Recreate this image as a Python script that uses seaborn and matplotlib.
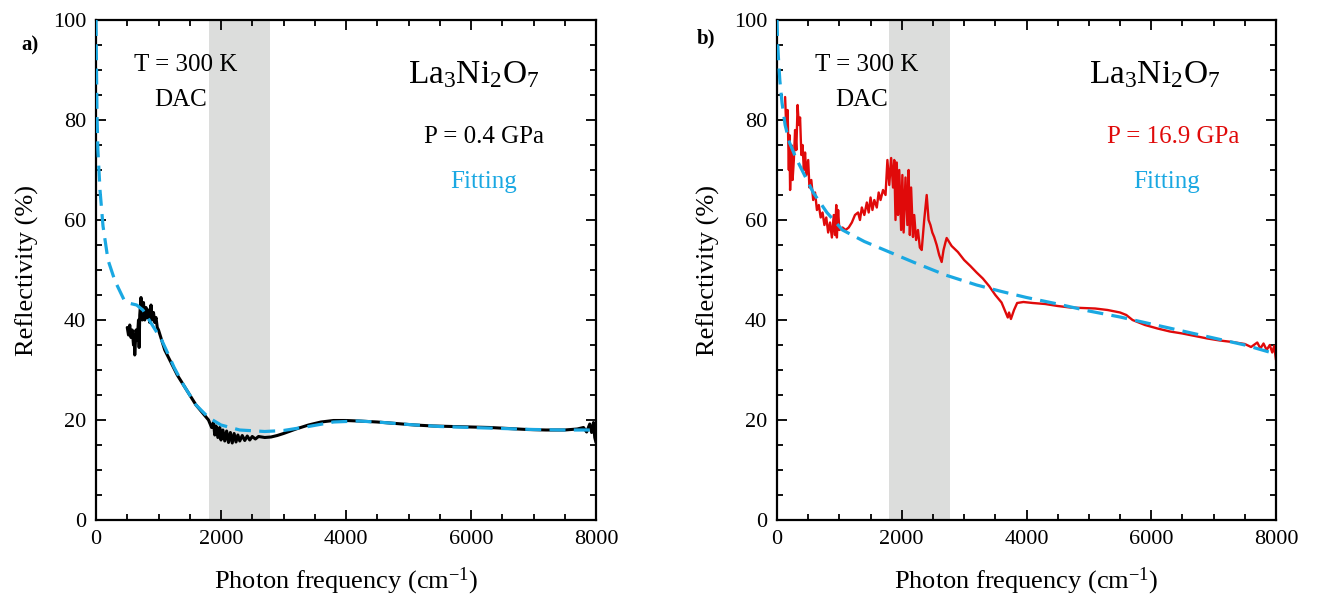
import matplotlib
matplotlib.use("Agg")
import matplotlib.pyplot as plt
import seaborn as sns
from matplotlib.ticker import MultipleLocator

# ---------------- data ----------------
# panel a: P = 0.4 GPa measured reflectivity
a_freq = [500, 520, 540, 560, 580, 600, 610, 620, 640, 660, 680, 690, 700, 720, 740, 760,
          780, 800, 820, 840, 860, 880, 900, 920, 940, 960, 980, 1000, 1100, 1200, 1300,
          1400, 1500, 1600, 1700, 1800, 1850, 1880, 1900, 1920, 1950, 1980, 2000, 2030,
          2060, 2090, 2120, 2150, 2180, 2210, 2240, 2270, 2300, 2340, 2380, 2420, 2460,
          2500, 2550, 2600, 2700, 2800, 2900, 3000, 3200, 3400, 3600, 3800, 4000, 4200,
          4500, 4800, 5100, 5400, 5700, 6000, 6300, 6600, 6900, 7200, 7500, 7700, 7800,
          7850, 7900, 7930, 7960, 7980, 8000]
a_refl = [38.5, 37, 39, 36.5, 38, 35, 37, 33, 38, 36, 40, 34.5, 41, 44.5, 40, 43.5,
          40, 42.5, 40.5, 42, 39.5, 43, 40, 41.5, 39.5, 40.5, 38.5, 38, 34, 31.5, 29,
          27, 25, 23, 21.5, 20, 18.5, 19.5, 17, 18.8, 16.5, 18.5, 16, 18,
          15.8, 17.8, 15.5, 17.5, 15.4, 17.3, 15.6, 17, 15.8, 16.9, 15.9, 16.8, 16,
          16.7, 16.2, 16.7, 16.5, 16.6, 16.9, 17.3, 18.2, 19, 19.6, 19.9, 19.9, 19.8,
          19.6, 19.3, 19.0, 18.8, 18.7, 18.6, 18.5, 18.3, 18.1, 18.0, 18.0, 18.2, 18.5,
          17.6, 19.2, 17.5, 19.5, 16.5, 15.5]
# panel a: fitting curve
a_fit_freq = [0, 8, 16, 30, 64, 112, 192, 304, 450, 550, 650, 750, 850, 950, 1050, 1150,
              1250, 1400, 1600, 1800, 2000, 2300, 2700, 3000, 3400, 3800, 4200, 4600,
              5000, 5500, 6000, 6500, 7000, 7500, 8000]
a_fit_refl = [100, 90, 81, 74, 66, 58.8, 52, 47.8, 44, 43.3, 43, 42, 40, 38, 36, 33.3,
              30.5, 27, 23, 20.5, 19, 18, 17.7, 17.9, 18.7, 19.6, 19.8, 19.5,
              19.1, 18.7, 18.5, 18.3, 18.1, 18.0, 18.0]

# panel b: P = 16.9 GPa measured reflectivity
b_freq = [130, 150, 170, 190, 200, 210, 230, 250, 270, 290, 310, 330, 350, 370, 390, 410,
          430, 450, 470, 500, 520, 550, 580, 610, 640, 670, 700, 730, 760, 790, 820, 850,
          880, 910, 930, 950, 960, 980, 1000, 1050, 1100, 1150, 1200, 1250, 1300, 1330,
          1360, 1400, 1440, 1470, 1500, 1530, 1560, 1600, 1630, 1660, 1700, 1740, 1770,
          1800, 1830, 1860, 1880, 1900, 1920, 1940, 1960, 1990, 2010, 2030, 2060, 2090,
          2110, 2130, 2150, 2180, 2200, 2230, 2260, 2290, 2320, 2360, 2400, 2430, 2460,
          2490, 2520, 2560, 2600, 2640, 2670, 2700, 2720, 2800, 2900, 3000, 3100,
          3200, 3300, 3400, 3500, 3600, 3650, 3700, 3720, 3750, 3800, 3850, 3950, 4100,
          4300, 4500, 4700, 4900, 5100, 5300, 5500, 5600, 5700, 5900, 6100, 6300, 6500,
          6700, 6900, 7100, 7300, 7500, 7600, 7700, 7750, 7800, 7850, 7900, 7940, 7970,
          8000]
b_refl = [84.6, 78, 82, 70, 77, 66, 75, 68, 72, 78, 74, 83, 79, 80.5, 73, 75,
          70, 73.5, 69, 72, 66.5, 68, 64, 65.5, 62, 63, 60.5, 61.5, 59, 60.5, 57.5, 59.5,
          56.5, 61, 57, 63, 56.5, 62, 58, 58.5, 58, 58.5, 59.5, 61, 61.5, 60,
          62.5, 61, 63.5, 61.5, 64.5, 62, 64, 62.5, 65.5, 64, 66, 65, 72,
          67, 72.4, 66.5, 72, 60, 71.5, 61, 70, 58, 69, 57.5, 68.5, 59,
          70, 57, 66.5, 56.6, 61, 56, 58, 54.5, 54, 60, 65, 60, 59,
          57.5, 56.6, 55, 53, 51.6, 54, 55.5, 56.4, 54.8, 53.6, 52, 50.8,
          49.5, 48.3, 46.8, 45, 43.5, 42, 40.5, 41.5, 40.2, 42, 43.4, 43.6, 43.4,
          43.2, 42.8, 42.5, 42.4, 42.3, 42, 41.5, 41, 40, 39, 38.3, 37.7, 37.3,
          36.8, 36.3, 35.9, 35.6, 35.2, 34.6, 35.5, 34.3, 35.3, 34, 35, 33.5, 34.8,
          32]
# panel b: fitting curve
b_fit_freq = [0, 8, 20, 45, 80, 130, 200, 300, 400, 580, 800, 1050, 1400, 1800, 2200,
              2700, 3200, 3600, 4000, 4500, 5000, 5500, 6000, 6500, 7000, 7500, 8000]
b_fit_refl = [100, 96, 93, 88, 83.5, 79, 75.5, 72.5, 70, 65.5, 61.5, 58, 55.7, 53.6, 51.5,
              49, 47, 45.7, 44.5, 43.2, 41.8, 40.6, 39.2, 37.8, 36.4, 35, 33.2]

shade_range = [1800, 2780]
x_ticks = [0, 2000, 4000, 6000, 8000]
y_ticks = [0, 20, 40, 60, 80, 100]

# ---------------- style ----------------
sns.set_style("ticks")
SERIF = "Liberation Serif"
plt.rcParams["font.family"] = [SERIF, "DejaVu Serif"]
plt.rcParams["mathtext.fontset"] = "custom"
plt.rcParams["mathtext.rm"] = SERIF
plt.rcParams["mathtext.it"] = SERIF + ":italic"
plt.rcParams["mathtext.bf"] = SERIF + ":bold"
plt.rcParams["text.color"] = "black"
plt.rcParams["axes.labelcolor"] = "black"
plt.rcParams["xtick.color"] = "black"
plt.rcParams["ytick.color"] = "black"

BLUE = "#1aa8e2"
RED = "#e00a0a"
GREY = "#dcdddc"

fig = plt.figure(figsize=(13.22, 6.08), dpi=100)
ax_a = fig.add_axes([96 / 1322, 1 - 520 / 608, 500 / 1322, 500 / 608])
ax_b = fig.add_axes([777 / 1322, 1 - 520 / 608, 499 / 1322, 500 / 608])


def style_axes(ax):
    ax.set_xlim(0, 8000)
    ax.set_ylim(0, 100)
    ax.set_xticks(x_ticks)
    ax.set_yticks(y_ticks)
    ax.xaxis.set_minor_locator(MultipleLocator(500))
    ax.yaxis.set_minor_locator(MultipleLocator(5))
    ax.tick_params(which="both", direction="in", top=True, right=True,
                   width=1.3, colors="black", labelsize=16)
    ax.tick_params(which="major", length=7, pad=7)
    ax.tick_params(which="minor", length=4)
    for s in ax.spines.values():
        s.set_linewidth(1.6)
        s.set_color("black")
    ax.set_xlabel("Photon frequency (cm$^{\\mathrm{-1}}$)", fontsize=19, labelpad=12,
                  color="black")
    ax.set_ylabel("Reflectivity (%)", fontsize=19, labelpad=10, color="black")


for ax in (ax_a, ax_b):
    ax.axvspan(shade_range[0], shade_range[1], color=GREY, lw=0, zorder=0)

sns.lineplot(x=a_freq, y=a_refl, ax=ax_a, color="black", lw=2.2, sort=False,
             estimator=None, zorder=2)
sns.lineplot(x=a_fit_freq, y=a_fit_refl, ax=ax_a, color=BLUE, lw=2.3, sort=False,
             estimator=None, linestyle=(0, (5, 2.6)), zorder=3)
sns.lineplot(x=b_freq, y=b_refl, ax=ax_b, color=RED, lw=1.7, sort=False,
             estimator=None, zorder=2)
sns.lineplot(x=b_fit_freq, y=b_fit_refl, ax=ax_b, color=BLUE, lw=2.3, sort=False,
             estimator=None, linestyle=(0, (5, 2.6)), zorder=3)

for ax in (ax_a, ax_b):
    style_axes(ax)
    ax.text(1430, 91, "T = 300 K", fontsize=18, ha="center", va="center", color="black")
    ax.text(1350, 84, "DAC", fontsize=18, ha="center", va="center", color="black")
    ax.text(6050, 89, "La$_{\\mathrm{3}}$Ni$_{\\mathrm{2}}$O$_{\\mathrm{7}}$",
            fontsize=24, ha="center", va="center", color="black")

ax_a.text(6200, 76.6, "P = 0.4 GPa", fontsize=18, ha="center", va="center", color="black")
ax_a.text(6200, 67.6, "Fitting", fontsize=18, ha="center", va="center", color=BLUE)
ax_b.text(6350, 76.6, "P = 16.9 GPa", fontsize=18, ha="center", va="center", color=RED)
ax_b.text(6250, 67.6, "Fitting", fontsize=18, ha="center", va="center", color=BLUE)

fig.text(30 / 1322, 1 - 45 / 608, "a)", fontsize=15, fontweight="bold",
         ha="center", va="center", color="black")
fig.text(706 / 1322, 1 - 38 / 608, "b)", fontsize=15, fontweight="bold",
         ha="center", va="center", color="black")

fig.savefig("out.png", dpi=100)
